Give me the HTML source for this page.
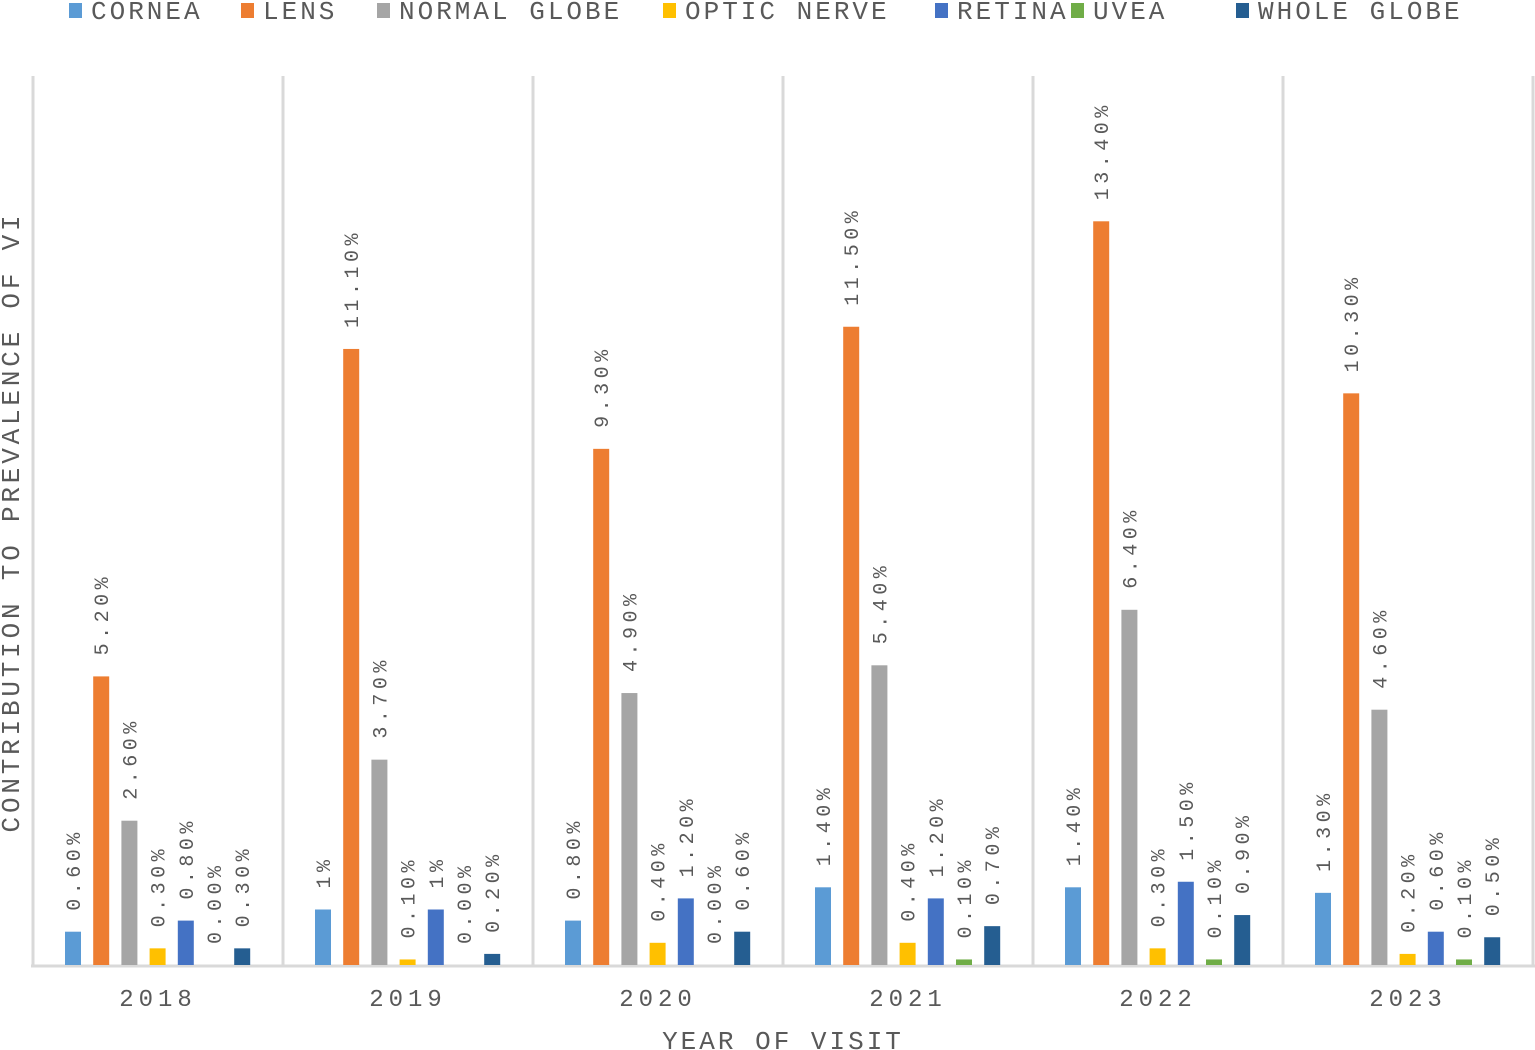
<!DOCTYPE html>
<html><head><style>body{margin:0;background:#fff}svg{display:block}.l{font-size:20px;fill:#595959;letter-spacing:4.5px}</style></head><body>
<svg width="1535" height="1050" xmlns="http://www.w3.org/2000/svg" font-family="Liberation Mono, monospace">
<g stroke="#d9d9d9" stroke-width="3">
<line x1="33" y1="76" x2="33" y2="966"/><line x1="283" y1="76" x2="283" y2="966"/><line x1="533" y1="76" x2="533" y2="966"/><line x1="783" y1="76" x2="783" y2="966"/><line x1="1033" y1="76" x2="1033" y2="966"/><line x1="1283" y1="76" x2="1283" y2="966"/><line x1="1533" y1="76" x2="1533" y2="966"/>
<line x1="31" y1="966" x2="1535" y2="966"/>
</g>
<g font-size="26" fill="#595959" letter-spacing="3">
<rect x="69" y="3" width="13" height="15" fill="#5B9BD5"/><text x="91" y="19">CORNEA</text>
<rect x="241" y="3" width="13" height="15" fill="#ED7D31"/><text x="263" y="19">LENS</text>
<rect x="377" y="3" width="13" height="15" fill="#A5A5A5"/><text x="399" y="19">NORMAL GLOBE</text>
<rect x="663" y="3" width="13" height="15" fill="#FFC000"/><text x="685" y="19">OPTIC NERVE</text>
<rect x="935" y="3" width="13" height="15" fill="#4472C4"/><text x="957" y="19">RETINA</text>
<rect x="1071" y="3" width="13" height="15" fill="#70AD47"/><text x="1093" y="19">UVEA</text>
<rect x="1236" y="3" width="13" height="15" fill="#255E91"/><text x="1258" y="19">WHOLE GLOBE</text>
</g>
<!-- 2018 -->
<rect x="65" y="931.7" width="16" height="33.3" fill="#5B9BD5"/><text class="l" transform="translate(80,910.7) rotate(-90)">0.60%</text>
<rect x="93.2" y="676.4" width="16" height="288.6" fill="#ED7D31"/><text class="l" transform="translate(108.2,655.4) rotate(-90)">5.20%</text>
<rect x="121.4" y="820.7" width="16" height="144.3" fill="#A5A5A5"/><text class="l" transform="translate(136.4,799.7) rotate(-90)">2.60%</text>
<rect x="149.6" y="948.35" width="16" height="16.65" fill="#FFC000"/><text class="l" transform="translate(164.6,927.35) rotate(-90)">0.30%</text>
<rect x="177.8" y="920.6" width="16" height="44.4" fill="#4472C4"/><text class="l" transform="translate(192.8,899.6) rotate(-90)">0.80%</text>
<text class="l" transform="translate(221,944) rotate(-90)">0.00%</text>
<rect x="234.2" y="948.35" width="16" height="16.65" fill="#255E91"/><text class="l" transform="translate(249.2,927.35) rotate(-90)">0.30%</text>
<!-- 2019 -->
<rect x="315" y="909.5" width="16" height="55.5" fill="#5B9BD5"/><text class="l" transform="translate(330,888.5) rotate(-90)">1%</text>
<rect x="343.2" y="348.95" width="16" height="616.05" fill="#ED7D31"/><text class="l" transform="translate(358.2,327.95) rotate(-90)">11.10%</text>
<rect x="371.4" y="759.65" width="16" height="205.35" fill="#A5A5A5"/><text class="l" transform="translate(386.4,738.65) rotate(-90)">3.70%</text>
<rect x="399.6" y="959.45" width="16" height="5.55" fill="#FFC000"/><text class="l" transform="translate(414.6,938.45) rotate(-90)">0.10%</text>
<rect x="427.8" y="909.5" width="16" height="55.5" fill="#4472C4"/><text class="l" transform="translate(442.8,888.5) rotate(-90)">1%</text>
<text class="l" transform="translate(471,944) rotate(-90)">0.00%</text>
<rect x="484.2" y="953.9" width="16" height="11.1" fill="#255E91"/><text class="l" transform="translate(499.2,932.9) rotate(-90)">0.20%</text>
<!-- 2020 -->
<rect x="565" y="920.6" width="16" height="44.4" fill="#5B9BD5"/><text class="l" transform="translate(580,899.6) rotate(-90)">0.80%</text>
<rect x="593.2" y="448.85" width="16" height="516.15" fill="#ED7D31"/><text class="l" transform="translate(608.2,427.85) rotate(-90)">9.30%</text>
<rect x="621.4" y="693.05" width="16" height="271.95" fill="#A5A5A5"/><text class="l" transform="translate(636.4,672.05) rotate(-90)">4.90%</text>
<rect x="649.6" y="942.8" width="16" height="22.2" fill="#FFC000"/><text class="l" transform="translate(664.6,921.8) rotate(-90)">0.40%</text>
<rect x="677.8" y="898.4" width="16" height="66.6" fill="#4472C4"/><text class="l" transform="translate(692.8,877.4) rotate(-90)">1.20%</text>
<text class="l" transform="translate(721,944) rotate(-90)">0.00%</text>
<rect x="734.2" y="931.7" width="16" height="33.3" fill="#255E91"/><text class="l" transform="translate(749.2,910.7) rotate(-90)">0.60%</text>
<!-- 2021 -->
<rect x="815" y="887.3" width="16" height="77.7" fill="#5B9BD5"/><text class="l" transform="translate(830,866.3) rotate(-90)">1.40%</text>
<rect x="843.2" y="326.75" width="16" height="638.25" fill="#ED7D31"/><text class="l" transform="translate(858.2,305.75) rotate(-90)">11.50%</text>
<rect x="871.4" y="665.3" width="16" height="299.7" fill="#A5A5A5"/><text class="l" transform="translate(886.4,644.3) rotate(-90)">5.40%</text>
<rect x="899.6" y="942.8" width="16" height="22.2" fill="#FFC000"/><text class="l" transform="translate(914.6,921.8) rotate(-90)">0.40%</text>
<rect x="927.8" y="898.4" width="16" height="66.6" fill="#4472C4"/><text class="l" transform="translate(942.8,877.4) rotate(-90)">1.20%</text>
<rect x="956" y="959.45" width="16" height="5.55" fill="#70AD47"/><text class="l" transform="translate(971,938.45) rotate(-90)">0.10%</text>
<rect x="984.2" y="926.15" width="16" height="38.85" fill="#255E91"/><text class="l" transform="translate(999.2,905.15) rotate(-90)">0.70%</text>
<!-- 2022 -->
<rect x="1065" y="887.3" width="16" height="77.7" fill="#5B9BD5"/><text class="l" transform="translate(1080,866.3) rotate(-90)">1.40%</text>
<rect x="1093.2" y="221.3" width="16" height="743.7" fill="#ED7D31"/><text class="l" transform="translate(1108.2,200.3) rotate(-90)">13.40%</text>
<rect x="1121.4" y="609.8" width="16" height="355.2" fill="#A5A5A5"/><text class="l" transform="translate(1136.4,588.8) rotate(-90)">6.40%</text>
<rect x="1149.6" y="948.35" width="16" height="16.65" fill="#FFC000"/><text class="l" transform="translate(1164.6,927.35) rotate(-90)">0.30%</text>
<rect x="1177.8" y="881.75" width="16" height="83.25" fill="#4472C4"/><text class="l" transform="translate(1192.8,860.75) rotate(-90)">1.50%</text>
<rect x="1206" y="959.45" width="16" height="5.55" fill="#70AD47"/><text class="l" transform="translate(1221,938.45) rotate(-90)">0.10%</text>
<rect x="1234.2" y="915.05" width="16" height="49.95" fill="#255E91"/><text class="l" transform="translate(1249.2,894.05) rotate(-90)">0.90%</text>
<!-- 2023 -->
<rect x="1315" y="892.85" width="16" height="72.15" fill="#5B9BD5"/><text class="l" transform="translate(1330,871.85) rotate(-90)">1.30%</text>
<rect x="1343.2" y="393.35" width="16" height="571.65" fill="#ED7D31"/><text class="l" transform="translate(1358.2,372.35) rotate(-90)">10.30%</text>
<rect x="1371.4" y="709.7" width="16" height="255.3" fill="#A5A5A5"/><text class="l" transform="translate(1386.4,688.7) rotate(-90)">4.60%</text>
<rect x="1399.6" y="953.9" width="16" height="11.1" fill="#FFC000"/><text class="l" transform="translate(1414.6,932.9) rotate(-90)">0.20%</text>
<rect x="1427.8" y="931.7" width="16" height="33.3" fill="#4472C4"/><text class="l" transform="translate(1442.8,910.7) rotate(-90)">0.60%</text>
<rect x="1456" y="959.45" width="16" height="5.55" fill="#70AD47"/><text class="l" transform="translate(1471,938.45) rotate(-90)">0.10%</text>
<rect x="1484.2" y="937.25" width="16" height="27.75" fill="#255E91"/><text class="l" transform="translate(1499.2,916.25) rotate(-90)">0.50%</text>
<g font-size="24" fill="#595959" text-anchor="middle" letter-spacing="5">
<text x="158" y="1006">2018</text><text x="408" y="1006">2019</text><text x="658" y="1006">2020</text><text x="908" y="1006">2021</text><text x="1158" y="1006">2022</text><text x="1408" y="1006">2023</text>
</g>
<text x="783" y="1049" font-size="26" fill="#595959" text-anchor="middle" letter-spacing="3">YEAR OF VISIT</text>
<text transform="translate(19,522) rotate(-90)" font-size="26" fill="#595959" text-anchor="middle" letter-spacing="3.8">CONTRIBUTION TO PREVALENCE OF VI</text>
</svg>
</body></html>
